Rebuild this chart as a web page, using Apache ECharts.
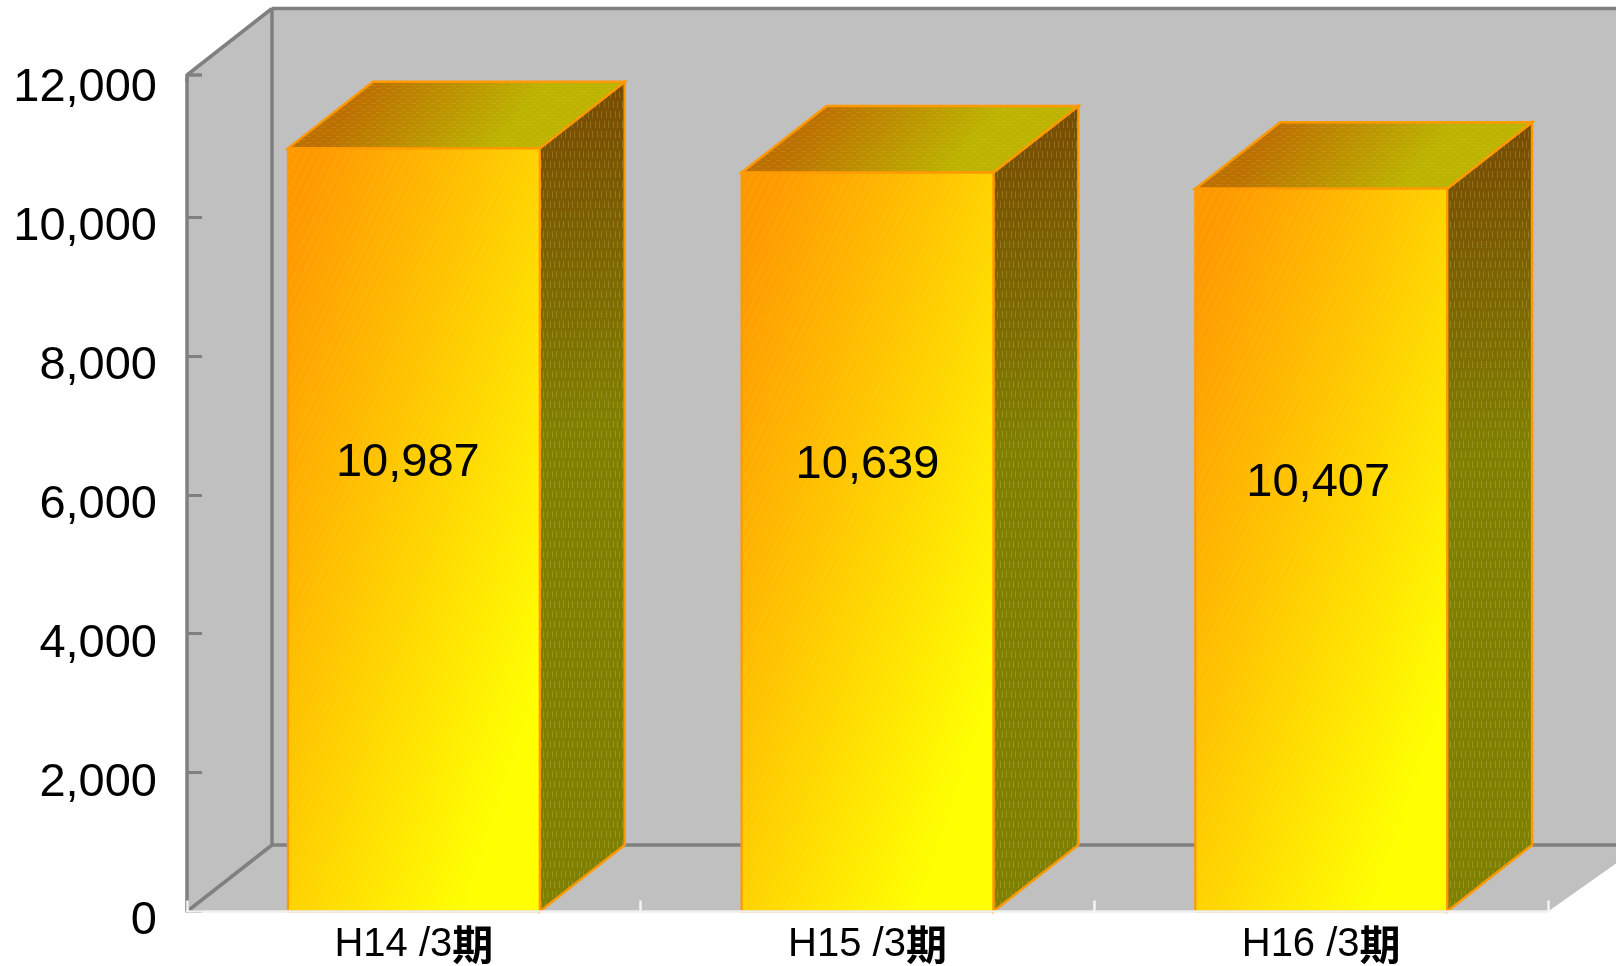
<!DOCTYPE html>
<html>
<head>
<meta charset="utf-8">
<style>html,body{margin:0;padding:0;background:#fff;overflow:hidden}#c{width:1616px;height:966px}</style>
<script src="https://cdn.jsdelivr.net/npm/echarts@6/dist/echarts.min.js"></script>
</head>
<body>
<div id="c"></div>
<script>
const categories = ['H14 /3', 'H15 /3', 'H16 /3'];
const categorySuffix = '期';
const sales = [10987, 10639, 10407];
const yTicks = [0, 2000, 4000, 6000, 8000, 10000, 12000];
// hand-placed value labels in the original: shift from the front-face centre
const labelShiftX = [-6, 0, -3];
const labelShiftY = [-67, -77, -67];

const FONT = '"Liberation Sans", Arial, sans-serif';
const DEPTH_X = 85, DEPTH_Y = 66.5;
const BAR_RATIO = 0.555;

function texture(w, h, draw) {
  const cv = document.createElement('canvas');
  cv.width = w; cv.height = h;
  draw(cv.getContext('2d'));
  return { image: cv, repeat: 'repeat' };
}
const sideTexture = texture(9, 20, (g) => {
  g.fillStyle = 'rgba(235,225,170,0.20)';
  g.fillRect(1, 1, 1, 7); g.fillRect(5, 1, 1, 7);
  g.fillRect(3, 11, 1, 7); g.fillRect(7, 11, 1, 7);
});
const topTexture = texture(10, 6, (g) => {
  g.fillStyle = 'rgba(235,215,120,0.14)';
  g.fillRect(1, 1, 5, 1); g.fillRect(6, 4, 4, 1); g.fillRect(0, 4, 1, 1);
});
const frontTexture = texture(8, 16, (g) => {
  g.strokeStyle = 'rgba(255,255,255,0.08)';
  g.lineWidth = 1;
  g.beginPath(); g.moveTo(0, 16); g.lineTo(8, 0); g.stroke();
});

function skewGradient(x, y, w, h, stops) {
  // isolines run along the anti-diagonal of the box
  const len = Math.hypot(h, w), nx = h / len, ny = w / len;
  const d = w * nx + h * ny;
  return { type: 'linear', global: true, x: x, y: y, x2: x + nx * d, y2: y + ny * d,
    colorStops: stops.map((s) => ({ offset: s[0], color: s[1] })) };
}

function renderFrame(params, api) {
  const c = params.coordSys;
  const L = c.x, R = c.x + c.width, T = c.y - 3, B = c.y + c.height, W = api.getWidth();
  const gray = '#c0c0c0', line = { stroke: '#808080', lineWidth: 3.5, fill: null };
  const bx = L + DEPTH_X, by = B - DEPTH_Y, ty = T - DEPTH_Y;
  const poly = (pts) => ({ type: 'polygon', shape: { points: pts }, style: { fill: gray } });
  const seg = (a, b, d, e) => ({ type: 'line', shape: { x1: a, y1: b, x2: d, y2: e }, style: line });
  return { type: 'group', children: [
    poly([[bx, ty], [W, ty], [W, by], [bx, by]]),
    poly([[L, T], [bx, ty], [bx, by], [L, B]]),
    poly([[L, B], [bx, by], [W, by], [W, B - 48], [R, B]]),
    seg(bx, ty, W, ty), seg(bx, ty, bx, by), seg(bx, by, W, by),
    seg(L, T, bx, ty), seg(L, B, bx, by), seg(L, T - 1, L, c.y + 4),
    seg(L, T, L + 15, T)
  ] };
}

function renderBar(params, api) {
  const i = params.dataIndex;
  const val = api.value(1);
  const top = api.coord([i, val]);
  const base = api.coord([i, 0]);
  const w = api.size([1, 0])[0] * BAR_RATIO;
  const x0 = top[0] - w / 2, x1 = top[0] + w / 2, y = top[1], y0 = base[1];
  const h = y0 - y;
  const edge = '#ff9900';
  const sidePts = [[x1, y], [x1 + DEPTH_X, y - DEPTH_Y], [x1 + DEPTH_X, y0 - DEPTH_Y], [x1, y0]];
  const topPts = [[x0, y], [x0 + DEPTH_X, y - DEPTH_Y], [x1 + DEPTH_X, y - DEPTH_Y], [x1, y]];
  return { type: 'group', children: [
    { type: 'polygon', shape: { points: sidePts },
      style: { fill: { type: 'linear', global: true, x: x1, y: y - DEPTH_Y, x2: x1 + DEPTH_X, y2: y + h * 0.35,
        colorStops: [{ offset: 0, color: '#784800' }, { offset: 1, color: '#808000' }] } } },
    { type: 'polygon', shape: { points: sidePts }, style: { fill: sideTexture, stroke: edge, lineWidth: 2.5 } },
    { type: 'polygon', shape: { points: topPts },
      style: { fill: { type: 'linear', global: true, x: x0 + DEPTH_X, y: y - DEPTH_Y, x2: x1 - 60, y2: y + 20,
        colorStops: [{ offset: 0, color: '#bc7000' }, { offset: 1, color: '#bcb400' }] } } },
    { type: 'polygon', shape: { points: topPts }, style: { fill: topTexture, stroke: edge, lineWidth: 2.5 } },
    { type: 'rect', shape: { x: x0, y: y, width: w, height: h },
      style: { fill: skewGradient(x0, y, w, h, [[0, '#ff9900'], [0.06, '#ff9900'], [0.85, '#ffff00'], [1, '#ffff00']]) } },
    { type: 'rect', shape: { x: x0, y: y, width: w, height: h },
      style: { fill: frontTexture, stroke: edge, lineWidth: 2.2 } },
    { type: 'text', style: { text: api.value(1).toLocaleString('en-US'),
        x: top[0] + labelShiftX[i], y: (y + y0) / 2 + labelShiftY[i],
        align: 'center', verticalAlign: 'middle', fill: '#000', font: '47px ' + FONT } }
  ] };
}

const chart = echarts.init(document.getElementById('c'), null, { renderer: 'canvas' });
chart.setOption({
  animation: false,
  backgroundColor: '#ffffff',
  grid: { left: 187, right: 68, top: 78, bottom: 54.5, containLabel: false, outerBoundsMode: 'none' },
  xAxis: {
    type: 'category', data: categories, z: 3,
    axisLine: { show: true, lineStyle: { color: '#f0f0f0', width: 2.5 } },
    axisTick: { show: true, inside: true, length: 11, alignWithLabel: false, lineStyle: { color: '#f4f4f4', width: 2.5 } },
    axisLabel: { margin: 11, interval: 0, formatter: (v) => '{a|' + v + '}{b|' + categorySuffix + '}',
      rich: {
        a: { fontFamily: FONT, fontSize: 40, color: '#000', lineHeight: 44 },
        b: { fontFamily: '"Noto Sans CJK JP", sans-serif', fontWeight: 'bold', fontSize: 41, color: '#000', lineHeight: 44 }
      } }
  },
  yAxis: {
    type: 'value', min: yTicks[0], max: yTicks[yTicks.length - 1], interval: yTicks[1] - yTicks[0], z: 1,
    axisLine: { show: true, lineStyle: { color: '#808080', width: 3.5 } },
    axisTick: { show: true, inside: true, length: 15, customValues: yTicks.slice(0, -1), lineStyle: { color: '#808080', width: 3 } },
    splitLine: { show: false },
    axisLabel: { margin: 30, color: '#000', fontFamily: FONT, fontSize: 47, verticalAlign: 'top', lineHeight: 20,
      formatter: (v) => v.toLocaleString('en-US') }
  },
  series: [
    { type: 'custom', z: 0, silent: true, renderItem: renderFrame, data: [[0, 0]] },
    { type: 'custom', z: 2, silent: true, renderItem: renderBar,
      data: sales.map((v, i) => [i, v]) }
  ]
});
</script>
</body>
</html>
